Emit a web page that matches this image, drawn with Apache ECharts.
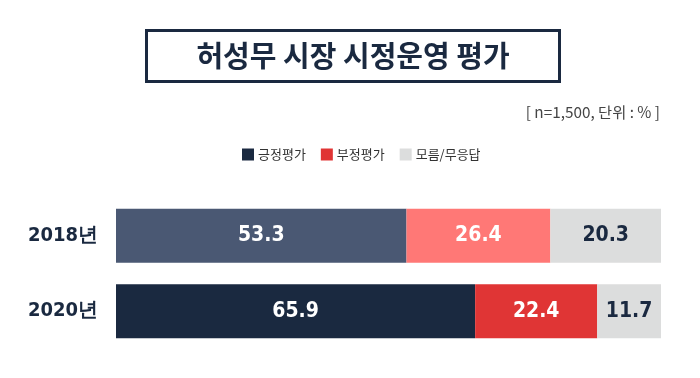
<!DOCTYPE html>
<html>
<head>
<meta charset="utf-8">
<script src="https://cdn.jsdelivr.net/npm/echarts@6/dist/echarts.min.js"></script>
<style>
  html, body { margin: 0; padding: 0; background: #fff; }
  #main { width: 700px; height: 378px; }
</style>
</head>
<body>
<div id="main"></div>
<script>
var dom = document.getElementById('main');
var chart = echarts.init(dom, null, { renderer: 'canvas' });

const years = ['2018년', '2020년'];
const positive = [53.3, 65.9];
const negative = [26.4, 22.4];
const unknown = [20.3, 11.7];

// 2018 bars are lighter tints
const posColors = ['#4a5873', '#1a2940'];
const negColors = ['#ff7876', '#e03535'];
const unkColors = ['#dcdddd', '#dcdddd'];

const numFont = '"DejaVu Sans Condensed", "Roboto", sans-serif';
const krFont = '"Noto Sans CJK KR", "Noto Sans", sans-serif';

function colored(values, colors) {
  return values.map(function (v, i) {
    return { value: v, itemStyle: { color: colors[i] } };
  });
}

var labelBase = {
  show: true,
  position: 'inside',
  fontWeight: 'bold',
  fontSize: 21,
  fontFamily: numFont
};

var option = {
  animation: false,
  textStyle: { fontFamily: krFont },
  graphic: [
    {
      type: 'rect',
      shape: { x: 146.5, y: 30.5, width: 413, height: 51 },
      style: { fill: '#fff', stroke: '#1a2940', lineWidth: 3 }
    },
    {
      type: 'text',
      x: 353, y: 56,
      style: {
        text: '허성무 시장 시정운영 평가',
        fill: '#1a2940',
        font: 'bold 29px "Noto Sans CJK KR"',
        align: 'center',
        verticalAlign: 'middle'
      }
    },
    {
      type: 'text',
      x: 660, y: 112,
      style: {
        text: '[ n=1,500, 단위 : % ]',
        fill: '#444',
        font: '15.3px "Noto Sans CJK KR"',
        align: 'right',
        verticalAlign: 'middle'
      }
    }
  ],
  legend: {
    top: 143,
    left: 237,
    itemWidth: 12,
    itemHeight: 12,
    itemGap: 15,
    icon: 'rect',
    textStyle: { fontSize: 13, color: '#333', padding: [0, 0, 0, -1] },
    data: [
      { name: '긍정평가', itemStyle: { color: '#1a2940' } },
      { name: '부정평가', itemStyle: { color: '#e03535' } },
      { name: '모름/무응답', itemStyle: { color: '#dcdddd' } }
    ]
  },
  grid: { left: 116, right: 39, top: 198, bottom: 29 },
  xAxis: {
    type: 'value',
    min: 0,
    max: 100,
    show: false
  },
  yAxis: {
    type: 'category',
    data: years,
    inverse: true,
    axisLine: { show: false },
    axisTick: { show: false },
    axisLabel: {
      color: '#1a2940',
      fontWeight: 'bold',
      fontSize: 20,
      fontFamily: numFont,
      margin: 18
    }
  },
  series: [
    {
      name: '긍정평가',
      type: 'bar',
      stack: 'total',
      barWidth: 54,
      data: colored(positive, posColors),
      label: Object.assign({}, labelBase, { color: '#fff' })
    },
    {
      name: '부정평가',
      type: 'bar',
      stack: 'total',
      barWidth: 54,
      data: colored(negative, negColors),
      label: Object.assign({}, labelBase, { color: '#fff' })
    },
    {
      name: '모름/무응답',
      type: 'bar',
      stack: 'total',
      barWidth: 54,
      data: colored(unknown, unkColors),
      label: Object.assign({}, labelBase, { color: '#1a2940' })
    }
  ]
};

chart.setOption(option);
window.addEventListener('resize', chart.resize);
</script>
</body>
</html>
